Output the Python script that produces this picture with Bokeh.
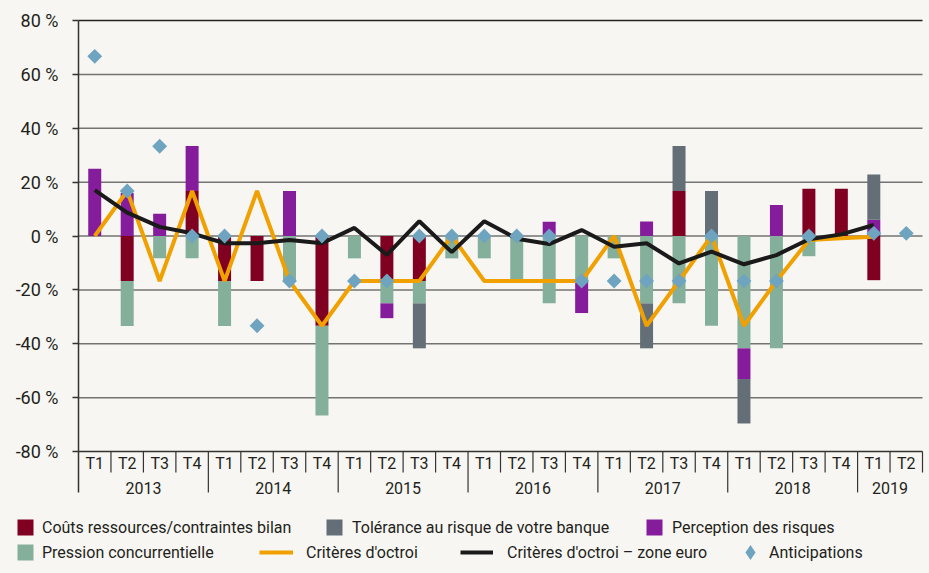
import numpy as np
from bokeh.plotting import figure
from bokeh.models import Range1d, FixedTicker, Legend, LegendItem, LinearAxis
from bokeh.core.properties import value
from bokeh.embed import file_html
from bokeh.resources import INLINE

# ---------------- data ----------------
years = ["2013", "2014", "2015", "2016", "2017", "2018", "2019"]
quarters = ["T1", "T2", "T3", "T4"] * 6 + ["T1", "T2"]
year_of = [y for y in years[:-1] for _ in range(4)] + ["2019", "2019"]

couts = [0, -16.7, 0, 16.7, -16.7, -16.7, 0, -33.3, 0, -16.7, -16.7, 0, 0,
         0, 0, 0, 0, 0, 16.7, 0, 0, 0, 17.5, 17.5, -16.4, 0]
pression = [0, -16.7, -8.3, -8.3, -16.7, 0, -16.7, -33.3, -8.3, -8.3, -8.3, -8.3, -8.3,
            -16.7, -25, -16.7, -8.3, -25, -25, -33.3, -41.7, -41.7, -7.5, 0, 0, 0]
perception = [25, 16, 8.3, 16.7, 0, 0, 16.7, 0, 0, -5.5, 0, 0, 0,
              0, 5.3, -11.9, 0, 5.4, 0, 0, -11.4, 11.5, 0, 0, 6, 0]
tolerance = [0, 0, 0, 0, 0, 0, 0, 0, 0, 0, -16.7, 0, 0,
             0, 0, 0, 0, -16.7, 16.7, 16.7, -16.5, 0, 0, 0, 16.8, 0]
criteres = [0, 16.7, -16.7, 16.7, -16.7, 16.7, -16.7, -33.3, -16.7, -16.7, -16.7, 0, -16.7,
            -16.7, -16.7, -16.7, 0, -33.3, -16.7, 0, -33.3, -16.7, -1.5, -0.8, -0.3]
zone_euro = [17, 8.7, 3.4, 1, -2.7, -2.7, -1.5, -2.7, 3, -7, 5.5, -6, 5.5,
             -1, -3, 2.2, -4, -2.7, -10.2, -5.8, -10.5, -7.1, -1.2, 0.6, 4.1]
anticipations = [66.7, 16.7, 33.3, 0, 0, -33.3, -16.7, 0, -16.7, -16.7, 0, 0, 0,
                 0, 0, -16.7, -16.7, -16.7, -16.7, 0, -16.7, -16.7, 0, np.nan, 1, 1]
y_ticks = [-80, -60, -40, -20, 0, 20, 40, 60, 80]

# ---------------- style ----------------
FONT = "Roboto"
TXT = "#231f20"
BG = "#f7f6f2"
C_COUTS = "#800021"
C_TOL = "#636e77"
C_PERC = "#841c9c"
C_PRES = "#84af9b"
C_ORANGE = "#f0a000"
C_BLACK = "#1a1a1a"
C_DIAM = "#6fa4c0"

W, H = 928, 572
n = len(quarters)
idx = np.arange(n)

# geometry of the (full-canvas) frame
PLOT_LEFT_PX = 78.0
CAT_PX = 844.0 / n
PX_PER_UNIT = 431.0 / 160.0
TOP80_PX = 20.0
x_start = -0.5 - PLOT_LEFT_PX / CAT_PX
x_end = x_start + W / CAT_PX
y_end = y_ticks[-1] + TOP80_PX / PX_PER_UNIT
y_start = y_end - H / PX_PER_UNIT

p = figure(width=W, height=H, output_backend="svg", toolbar_location=None,
           x_range=Range1d(x_start, x_end), y_range=Range1d(y_start, y_end),
           x_axis_location=None, y_axis_location=None,
           background_fill_color=BG, border_fill_color=BG, outline_line_color=None)
p.min_border = 0
p.xgrid.visible = False
p.ygrid.visible = False

Q_LABEL_Y = -84.6
Y_LABEL_Y = -93.4
Q_SEP_Y = -87.8
YEAR_SEP_Y = -95.2

# horizontal grid lines limited to the category span
x_lo, x_hi = -0.5, n - 0.5
grid_col = ["#222222" if t == y_ticks[-1] else ("#333333" if t == y_ticks[0] else "#737373")
            for t in y_ticks]
p.segment(x0=[x_lo] * len(y_ticks), x1=[x_hi] * len(y_ticks), y0=y_ticks, y1=y_ticks,
          line_color=grid_col, line_width=1.5)

# y axis fixed at the left edge of the first category
yax = LinearAxis(fixed_location=x_lo, ticker=FixedTicker(ticks=y_ticks),
                 bounds=(YEAR_SEP_Y, y_ticks[-1]))
yax.major_label_overrides = {t: f"{t} %" for t in y_ticks}
yax.major_label_text_font = FONT
yax.major_label_text_font_size = "18px"
yax.major_label_text_color = TXT
yax.major_label_standoff = 14
yax.major_tick_out = 6
yax.major_tick_in = 0
yax.minor_tick_line_color = None
yax.axis_line_color = "#333333"
yax.axis_line_width = 1.5
yax.major_tick_line_color = "#333333"
yax.major_tick_line_width = 1.5
p.add_layout(yax, "left")

# stacked bars (positive / negative stacked separately)
series = [(couts, C_COUTS), (pression, C_PRES), (perception, C_PERC), (tolerance, C_TOL)]
pos_base = np.zeros(n)
neg_base = np.zeros(n)
bar_r = {}
for vals, col in series:
    v = np.array(vals, dtype=float)
    bottom = np.where(v >= 0, pos_base, neg_base)
    top = bottom + v
    pos_base = np.where(v >= 0, top, pos_base)
    neg_base = np.where(v < 0, top, neg_base)
    bar_r[col] = p.vbar(x=idx, bottom=bottom, top=top, width=0.4,
                        fill_color=col, line_color=None)

r_or = p.line(idx[:len(criteres)], criteres, line_color=C_ORANGE, line_width=4)
r_bk = p.line(idx[:len(zone_euro)], zone_euro, line_color=C_BLACK, line_width=4)
p.scatter(idx, anticipations, marker="square", angle=np.pi / 4, size=10.5,
          fill_color=C_DIAM, line_color=None)
# same points as a (hidden) diamond renderer: used only for the legend swatch
r_di_leg = p.scatter(idx, anticipations, marker="diamond", size=15,
                     fill_color=C_DIAM, line_color=None, visible=False)

# category axis: separators and two label levels
bounds = np.arange(1, n + 1) - 0.5
is_year = [(k % 4 == 0) and k < n for k in range(1, n + 1)]
p.segment(x0=bounds, x1=bounds, y0=[y_ticks[0]] * n,
          y1=[YEAR_SEP_Y if yb else Q_SEP_Y for yb in is_year],
          line_color="#333333", line_width=1.2)
p.text(x=idx, y=[Q_LABEL_Y] * n, text=quarters, text_font=value(FONT),
       text_font_size=value("16px"), text_color=TXT, text_align="center",
       text_baseline="middle")
yc = [float(np.mean([i for i in range(n) if year_of[i] == y])) for y in years]
p.text(x=yc, y=[Y_LABEL_Y] * len(years), text=years, text_font=value(FONT),
       text_font_size=value("16px"), text_color=TXT, text_align="center",
       text_baseline="middle")

# legends (one per item), positioned in screen units from the frame's bottom-left
def add_leg(label, rend, vx, vy, gw, gh, standoff):
    leg = Legend(items=[LegendItem(label=label, renderers=[rend])], location=(vx, vy),
                 orientation="horizontal", glyph_width=gw, glyph_height=gh,
                 label_standoff=standoff, padding=0, margin=0, spacing=0,
                 border_line_color=None, background_fill_alpha=0,
                 inactive_fill_alpha=0,
                 label_text_font=FONT, label_text_font_size="16px",
                 label_text_color=TXT, label_height=gh, label_text_baseline="middle")
    p.add_layout(leg)

add_leg("Coûts ressources/contraintes bilan", bar_r[C_COUTS], 15, 35, 20, 20, 7)
add_leg("Tolérance au risque de votre banque", bar_r[C_TOL], 324, 35, 20, 20, 8)
add_leg("Perception des risques", bar_r[C_PERC], 644, 35, 20, 20, 8)
add_leg("Pression concurrentielle", bar_r[C_PRES], 15, 10, 20, 20, 7)
add_leg("Critères d'octroi", r_or, 259, 10, 34, 20, 13)
add_leg("Critères d'octroi – zone euro", r_bk, 460, 10, 33, 20, 14)
add_leg("Anticipations", r_di_leg, 731, 1, 38, 38, -2)

html = file_html(p, INLINE)
html = html.replace("</head>", f"<style>html, body {{ background: {BG}; }}</style></head>", 1)
open("out.html", "w").write(html)
